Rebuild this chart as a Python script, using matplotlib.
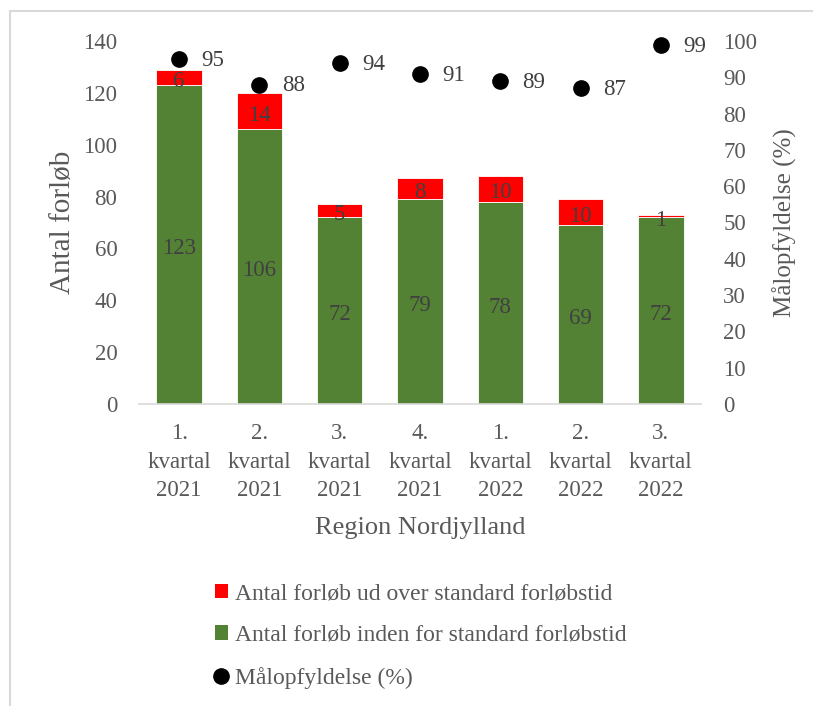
import matplotlib

matplotlib.use("Agg")
import matplotlib.pyplot as plt
from matplotlib.lines import Line2D
from matplotlib.patches import Patch, Rectangle
import numpy as np

# quarters, Region Nordjylland
categories = ["1.\nkvartal\n2021", "2.\nkvartal\n2021", "3.\nkvartal\n2021", "4.\nkvartal\n2021",
              "1.\nkvartal\n2022", "2.\nkvartal\n2022", "3.\nkvartal\n2022"]
within_standard = [123, 106, 72, 79, 78, 69, 72]
over_standard = [6, 14, 5, 8, 10, 10, 1]
goal_pct = [95, 88, 94, 91, 89, 87, 99]

GREEN = "#548235"
RED = "#ff0000"
TEXT = "#595959"
LABEL = "#404040"

plt.rcParams["font.family"] = ["Liberation Serif", "DejaVu Serif"]

W, H = 813, 706
fig = plt.figure(figsize=(W / 100, H / 100), dpi=100)
ax = fig.add_axes([139 / W, 1 - 404 / H, 562 / W, 363 / H])

x = np.arange(len(categories))
width = 0.567
ax.bar(x, within_standard, width, color=GREEN, edgecolor="white", linewidth=0.6)
ax.bar(x, over_standard, width, bottom=within_standard, color=RED, edgecolor="white", linewidth=0.6)

for xi, g, r in zip(x, within_standard, over_standard):
    ax.annotate(str(g), (xi, g / 2), xytext=(0, -3), textcoords="offset points",
                ha="center", va="center", fontsize=16.5, color=LABEL)
    ax.annotate(str(r), (xi, g + r / 2), xytext=(0, -3), textcoords="offset points",
                ha="center", va="center", fontsize=16.5, color=LABEL)

ax.set_xlim(-0.5, len(categories) - 0.5)
ax.set_ylim(0, 140)
ax.set_yticks(range(0, 141, 20))
ax.set_xticks(x)
ax.set_xticklabels(categories, linespacing=1.47)
ax.tick_params(axis="both", length=0, labelsize=16.5, labelcolor=TEXT)
ax.tick_params(axis="y", pad=15.5)
ax.tick_params(axis="x", pad=14)
for side in ("top", "left", "right"):
    ax.spines[side].set_visible(False)
ax.spines["bottom"].set_color("#d9d9d9")
ax.spines["bottom"].set_linewidth(1.2)
ax.set_ylabel("Antal forløb", fontsize=21, color=TEXT, labelpad=5)
ax.set_xlabel("Region Nordjylland", fontsize=19, color=TEXT, labelpad=11)

ax2 = ax.twinx()
ax2.set_ylim(0, 100)
ax2.set_yticks(range(0, 101, 10))
ax2.plot(x, goal_pct, "o", color="black", markersize=11, linestyle="none", clip_on=False)
for xi, v in zip(x, goal_pct):
    ax2.annotate(str(v), (xi, v), xytext=(16, -1), textcoords="offset points",
                 ha="left", va="center", fontsize=16.5, color=LABEL)
ax2.tick_params(axis="y", length=0, labelsize=16.5, labelcolor=TEXT, pad=16)
for side in ("top", "left", "right", "bottom"):
    ax2.spines[side].set_visible(False)
ax2.set_ylabel("Målopfyldelse (%)", fontsize=18, color=TEXT, labelpad=11)

handles = [
    Patch(facecolor=RED, edgecolor="none"),
    Patch(facecolor=GREEN, edgecolor="none"),
    Line2D([], [], marker="o", color="black", linestyle="none", markersize=11),
]
labels = [
    "Antal forløb ud over standard forløbstid",
    "Antal forløb inden for standard forløbstid",
    "Målopfyldelse (%)",
]
fig.legend(handles, labels, loc="upper left", bbox_to_anchor=(215 / W, 1 - 583 / H),
           frameon=False, fontsize=17, labelcolor=TEXT, borderpad=0, borderaxespad=0,
           handlelength=0.55, handleheight=0.55, handletextpad=0.3, labelspacing=0.88)

fig.add_artist(Rectangle((10 / W, -0.05), 1.2, 1 - 11 / H + 0.05, transform=fig.transFigure,
                         fill=False, edgecolor="#d9d9d9", linewidth=1.5))

fig.savefig("out.png", dpi=100)
